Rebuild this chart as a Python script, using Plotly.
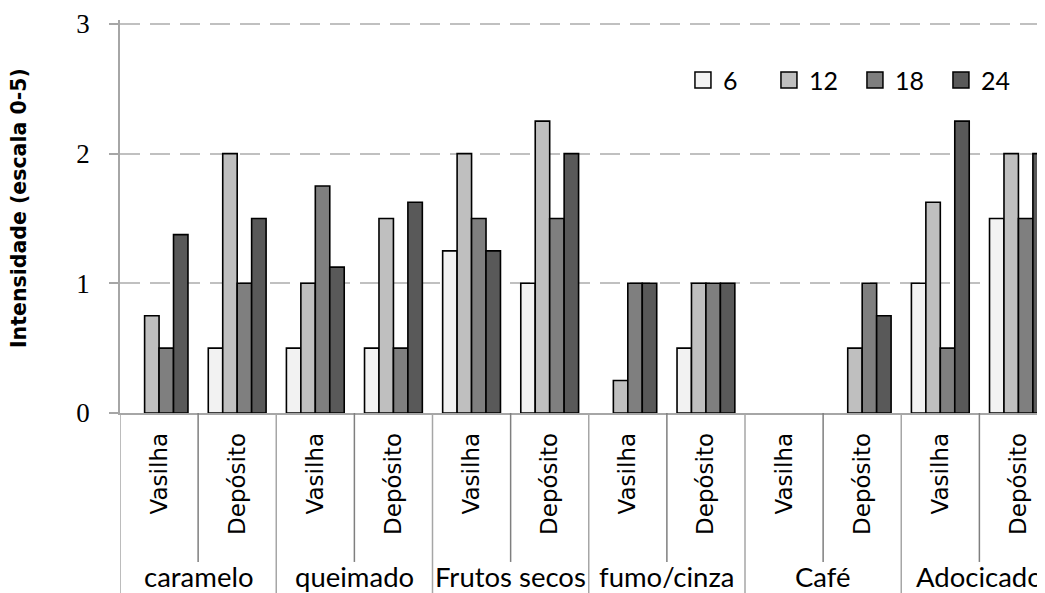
import plotly.graph_objects as go

groups = ["caramelo", "queimado", "Frutos secos", "fumo/cinza", "Café", "Adocicado"]
subs = ["Vasilha", "Depósito"]
series_names = ["6", "12", "18", "24"]

# values per series, ordered: caramelo V, caramelo D, queimado V, queimado D, ...
s6 = [0, 0.5, 0.5, 0.5, 1.25, 1.0, 0, 0.5, 0, 0, 1.0, 1.5]
s12 = [0.75, 2.0, 1.0, 1.5, 2.0, 2.25, 0.25, 1.0, 0, 0.5, 1.625, 2.0]
s18 = [0.5, 1.0, 1.75, 0.5, 1.5, 1.5, 1.0, 1.0, 0, 1.0, 0.5, 1.5]
s24 = [1.375, 1.5, 1.125, 1.625, 1.25, 2.0, 1.0, 1.0, 0, 0.75, 2.25, 2.0]
series_values = [s6, s12, s18, s24]
colors = ["#f2f2f2", "#bfbfbf", "#7f7f7f", "#595959"]
y_ticks = [0, 1, 2, 3]
y_title = "Intensidade (escala 0-5)"

sub_labels = [s for g in groups for s in subs]
xpos = list(range(len(sub_labels)))

fig = go.Figure()
for name, vals, col in zip(series_names, series_values, colors):
    fig.add_trace(go.Bar(x=xpos, y=vals, name=name, showlegend=False,
                         marker=dict(color=col,
                                     line=dict(color="black",
                                               width=[1.6 if v > 0 else 0 for v in vals]))))
for name, col in zip(series_names, colors):
    fig.add_trace(go.Scatter(x=[None], y=[None], mode="markers", name=name,
                             marker=dict(symbol="square", size=16, color=col,
                                         line=dict(color="black", width=1.5))))

# separators below the axis
shapes = []
n = len(sub_labels)
for i in range(n + 1):
    xb = i - 0.5
    if i % 2 == 0:
        shapes.append(dict(type="line", xref="x", yref="paper", x0=xb, x1=xb,
                           y0=0, y1=-0.47, line=dict(color="#a6a6a6", width=1.5)))
    else:
        shapes.append(dict(type="line", xref="x", yref="paper", x0=xb, x1=xb,
                           y0=0, y1=-0.379, line=dict(color="#7f7f7f", width=1.5)))

annotations = []
for gi, g in enumerate(groups):
    annotations.append(dict(text=g, x=gi * 2 + 0.5, xref="x", y=-0.415, yref="paper",
                            showarrow=False, xanchor="center", yanchor="middle",
                            font=dict(family="Lato", size=27.5, color="black")))
annotations.append(dict(text="<b>" + y_title + "</b>", x=-0.109, xref="paper", y=0.522, yref="paper",
                        showarrow=False, textangle=-90, xanchor="center", yanchor="middle",
                        font=dict(family="DejaVu Sans", size=20.5, color="black")))

fig.update_layout(
    template="none",
    width=1037, height=585, autosize=False,
    margin=dict(l=112, r=0, t=12, b=180, pad=0),
    paper_bgcolor="white", plot_bgcolor="white",
    barmode="group", bargap=0.26, bargroupgap=0,
    shapes=shapes, annotations=annotations,
    legend=dict(orientation="h", x=0.6086, xanchor="left", y=0.847, yanchor="middle",
                font=dict(family="Lato", size=25, color="black"),
                itemwidth=30, entrywidth=41, entrywidthmode="pixels",
                bgcolor="rgba(0,0,0,0)", borderwidth=0),
    xaxis=dict(range=[-0.5, 11.34], autorange=False, automargin=False,
               tickmode="array", tickvals=xpos, ticktext=sub_labels, tickangle=-90,
               showgrid=False, zeroline=False, showline=True, linecolor="#a6a6a6", linewidth=1.5,
               ticks="", ticklabelstandoff=9,
               tickfont=dict(family="DejaVu Sans", size=23, color="black")),
    yaxis=dict(range=[0, 3.03], autorange=False, automargin=False,
               tickmode="array", tickvals=y_ticks, showgrid=True, gridcolor="#c0c0c0",
               griddash="20px,10px", gridwidth=1.5, zeroline=False,
               showline=True, linecolor="#a6a6a6", linewidth=1.5,
               ticks="outside", ticklen=9, tickcolor="#a6a6a6", tickwidth=1.5,
               ticklabelstandoff=14,
               tickfont=dict(family="Liberation Serif", size=27, color="black")),
)

fig.write_html("out.html")
